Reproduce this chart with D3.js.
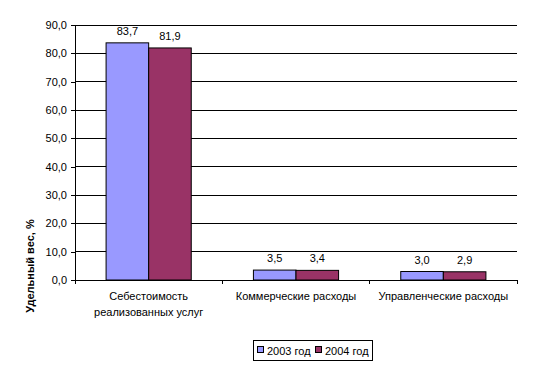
<!DOCTYPE html>
<html>
<head>
<meta charset="utf-8">
<script src="https://d3js.org/d3.v7.min.js"></script>
<style>
  body { margin: 0; background: #fff; }
  text { font-family: "Liberation Sans", Arial, sans-serif; font-size: 11px; fill: #000; }
</style>
</head>
<body>
<svg id="chart" width="533" height="369"></svg>
<script>
// data
const categories = [["Себестоимость", "реализованных услуг"], ["Коммерческие расходы"], ["Управленческие расходы"]];
const seriesNames = ["2003 год", "2004 год"];
const values2003 = [83.7, 3.5, 3.0];
const values2004 = [81.9, 3.4, 2.9];
const yTicks = [0, 10, 20, 30, 40, 50, 60, 70, 80, 90];
const colors = ["#9999FF", "#993366"];

const svg = d3.select("#chart");
const plotLeft = 75, plotRight = 517, plotTop = 25, plotBottom = 280;

let y = d3.scaleLinear().domain([0, 90]).range([plotBottom, plotTop]);
let x0 = d3.scaleBand().domain(d3.range(categories.length)).range([plotLeft, plotRight])
    .paddingInner(0).paddingOuter(0);
let x1 = d3.scaleBand().domain(d3.range(2)).range([0, x0.bandwidth()])
    .paddingInner(0).paddingOuter(0.73);

let fmt = v => d3.format(".1f")(v).replace(".", ",");

// gridlines
svg.append("g").selectAll("line")
    .data(yTicks.filter(d => d > 0))
    .enter().append("line")
    .attr("x1", plotLeft).attr("x2", plotRight)
    .attr("y1", d => y(d)).attr("y2", d => y(d))
    .attr("stroke", "#000").attr("stroke-width", 1)
    .attr("shape-rendering", "crispEdges");

// y axis
let yAxis = d3.axisLeft(y).tickValues(yTicks).tickFormat(fmt).tickSize(4).tickPadding(4);
let gy = svg.append("g").attr("transform", "translate(" + plotLeft + ",0)").call(yAxis);
gy.select(".domain").attr("stroke", "#000").attr("d", "M0," + plotBottom + "V" + plotTop);
gy.selectAll("line").attr("stroke", "#000");
gy.selectAll("text").style("font-size", "11px").style("font-family", "Liberation Sans, Arial, sans-serif");
gy.attr("shape-rendering", "crispEdges");

// bars
let data = categories.map((c, i) => ({i: i, vals: [values2003[i], values2004[i]]}));
let groups = svg.append("g").selectAll("g")
    .data(data).enter().append("g")
    .attr("transform", d => "translate(" + x0(d.i) + ",0)");

groups.selectAll("rect")
    .data(d => d.vals)
    .enter().append("rect")
    .attr("x", (d, j) => x1(j))
    .attr("width", x1.bandwidth())
    .attr("y", d => y(d))
    .attr("height", d => plotBottom - y(d))
    .attr("fill", (d, j) => colors[j])
    .attr("stroke", "#000").attr("stroke-width", 1);

groups.selectAll("text.val")
    .data(d => d.vals)
    .enter().append("text")
    .attr("class", "val")
    .attr("x", (d, j) => x1(j) + x1.bandwidth() / 2)
    .attr("y", d => y(d) - 8)
    .attr("text-anchor", "middle")
    .text(fmt);

// x axis
let gx = svg.append("g").attr("shape-rendering", "crispEdges");
gx.append("line").attr("x1", plotLeft).attr("x2", plotRight).attr("y1", plotBottom).attr("y2", plotBottom).attr("stroke", "#000");
gx.selectAll("line.tick")
    .data(d3.range(categories.length + 1))
    .enter().append("line")
    .attr("class", "tick")
    .attr("x1", d => plotLeft + d * x0.bandwidth()).attr("x2", d => plotLeft + d * x0.bandwidth())
    .attr("y1", plotBottom).attr("y2", plotBottom + 4)
    .attr("stroke", "#000");

svg.append("g").selectAll("text")
    .data(categories)
    .enter().append("text")
    .attr("text-anchor", "middle")
    .attr("x", (d, i) => x0(i) + x0.bandwidth() / 2)
    .attr("y", 300)
    .each(function(d) {
        d.forEach((line, k) => {
            d3.select(this).append("tspan")
                .attr("x", d3.select(this).attr("x"))
                .attr("dy", k === 0 ? 0 : 16)
                .text(line);
        });
    });

// y axis title
svg.append("text")
    .attr("transform", "translate(34,266) rotate(-90)")
    .attr("text-anchor", "middle")
    .style("font-weight", "bold")
    .text("Удельный вес, %");

// legend
let lg = svg.append("g");
lg.append("rect").attr("x", 253.5).attr("y", 340.5).attr("width", 119).attr("height", 20)
    .attr("fill", "#fff").attr("stroke", "#000");
let legendX = [257, 315];
seriesNames.forEach((name, j) => {
    lg.append("rect").attr("x", legendX[j] + 0.5).attr("y", 346.5).attr("width", 6).attr("height", 6)
        .attr("fill", colors[j]).attr("stroke", "#000");
    lg.append("text").attr("x", legendX[j] + 10).attr("y", 355).text(name);
});
</script>
</body>
</html>
